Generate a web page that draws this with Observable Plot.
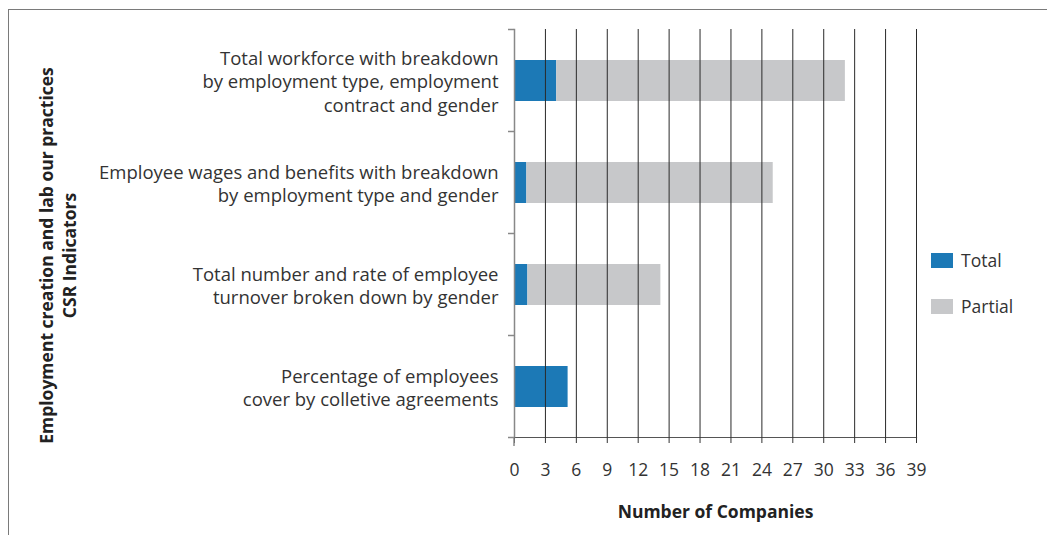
<!DOCTYPE html>
<html>
<head>
<meta charset="utf-8">
<script src="https://cdn.jsdelivr.net/npm/d3@7"></script>
<script src="https://cdn.jsdelivr.net/npm/@observablehq/plot@0.6"></script>
<style>
  html, body { margin: 0; padding: 0; background: #fff; }
  body { width: 1047px; height: 535px; position: relative; overflow: hidden; font-family: "Open Sans", sans-serif; }
  #frame { position: absolute; left: 8px; top: 9px; right: -10px; bottom: -10px; border-top: 1.5px solid #7a7a7a; border-left: 1.5px solid #7a7a7a; }
  #chart { position: absolute; left: 0; top: 0; }
  #legend { position: absolute; left: 931px; top: 247px; color: #333; font-size: 17.5px; }
  .item { display: flex; align-items: center; height: 26px; margin-bottom: 20px; }
  .sw { width: 22px; height: 15px; margin-right: 8px; }
</style>
</head>
<body>
<div id="frame"></div>
<div id="chart"></div>
<div id="legend"></div>
<script>
const indicators = [
  "Total workforce with breakdown\nby employment type, employment\ncontract and gender",
  "Employee wages and benefits with breakdown\nby employment type and gender",
  "Total number and rate of employee\nturnover broken down by gender",
  "Percentage of employees\ncover by colletive agreements"
];
const totalValues = [4.1, 1.2, 1.3, 5.2];
const partialValues = [28.0, 23.9, 12.9, 0];
const seriesNames = ["Total", "Partial"];
const seriesColors = ["#1c79b6", "#c7c8ca"];
const xTicks = [0, 3, 6, 9, 12, 15, 18, 21, 24, 27, 30, 33, 36, 39];
const xTitle = "Number of Companies";
const yTitle = "Employment creation and lab our practices\nCSR Indicators";

const rows = [];
indicators.forEach((ind, i) => {
  rows.push({indicator: ind, type: seriesNames[0], value: totalValues[i]});
  rows.push({indicator: ind, type: seriesNames[1], value: partialValues[i]});
});

// ticks at band boundaries on the y axis (plus axis line overshoot), computed from the band scale
function bandBoundaryTicks(index, scales, values, dimensions) {
  const y = scales.y;
  const step = y(indicators[1]) - y(indicators[0]);
  const bw = scales.scales.y.bandwidth || 0;
  const g = d3.create("svg:g");
  const x0 = dimensions.marginLeft;
  const yBottom = dimensions.height - dimensions.marginBottom;
  for (let k = 0; k <= indicators.length; k++) {
    const yy = y(indicators[0]) - (step - bw) / 2 + k * step;
    g.append("line").attr("x1", x0 - 6).attr("x2", x0).attr("y1", yy).attr("y2", yy)
      .attr("stroke", "#888").attr("stroke-width", 1.5);
  }
  g.append("line").attr("x1", x0).attr("x2", x0).attr("y1", yBottom).attr("y2", yBottom + 9)
    .attr("stroke", "#888").attr("stroke-width", 1.5);
  return g.node();
}

const chart = Plot.plot({
  width: 1047,
  height: 535,
  marginLeft: 514,
  marginRight: 131,
  marginTop: 29,
  marginBottom: 98,
  style: {fontFamily: "Open Sans, sans-serif", fontSize: "17px", color: "#333", background: "transparent"},
  x: {domain: [0, 39]},
  y: {domain: indicators, paddingInner: 0.6, paddingOuter: 0.3},
  color: {domain: seriesNames, range: seriesColors},
  marks: [
    Plot.barX(rows, Plot.stackX({y: "indicator", x: "value", fill: "type", order: seriesNames})),
    Plot.gridX(xTicks, {stroke: "#2a2a2a", strokeOpacity: 1, strokeWidth: 1}),
    Plot.frame({anchor: "bottom", stroke: "#555", strokeWidth: 1.2}),
    Plot.frame({anchor: "left", stroke: "#888", strokeWidth: 1.5}),
    Plot.axisX(xTicks, {tickSize: 6, tickPadding: 20, label: null, stroke: "#333", fontSize: 17.5}),
    Plot.axisY({tickSize: 0, tickPadding: 16, label: null, lineHeight: 1.25, fontSize: 18.5, tickFormat: d => d}),
    bandBoundaryTicks,
    Plot.text([xTitle], {frameAnchor: "bottom", dy: 80, fontWeight: "bold", fontSize: 17.5, fill: "#222"}),
    Plot.text([yTitle], {frameAnchor: "left", textAnchor: "middle", rotate: -90, dx: -457, dy: 22, fontWeight: "bold", fontSize: 17.5, lineHeight: 1.3, fill: "#222"})
  ]
});
document.getElementById("chart").appendChild(chart);

const legend = d3.select("#legend");
seriesNames.forEach((name, i) => {
  const it = legend.append("div").attr("class", "item");
  it.append("div").attr("class", "sw").style("background", seriesColors[i]);
  it.append("span").text(name);
});
</script>
</body>
</html>
